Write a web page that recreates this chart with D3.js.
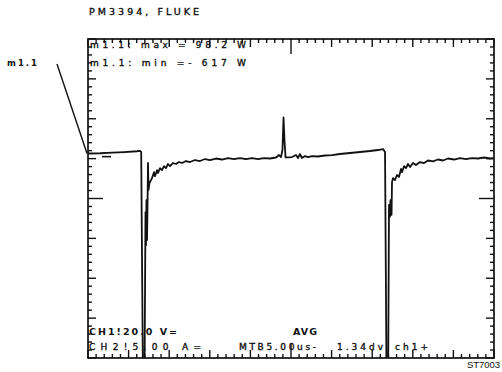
<!DOCTYPE html>
<html>
<head>
<meta charset="utf-8">
<script src="https://cdn.jsdelivr.net/npm/d3@7"></script>
<style>
  body { margin: 0; background: #fff; }
  svg { display: block; }
  text { font-family: "DejaVu Sans", sans-serif; fill: #111; }
</style>
</head>
<body>
<svg id="scope" width="502" height="372"></svg>
<script>
// m1.1 math trace: time (µs) and power (W)
const timeUs = [
  0, 1.5, 3.0, 4.5, 6.0, 6.4, 6.55, 6.77, 6.85, 6.95,
  7.08, 7.14, 7.2, 7.27, 7.33, 7.39, 7.45, 7.57, 7.76, 7.88,
  8.13, 8.25, 8.5, 8.62, 8.87, 9.11, 9.36, 9.6, 9.85, 10.1,
  10.47, 10.84, 11.2, 11.58, 12.07, 12.56, 13.18, 13.79, 14.41, 15.02,
  15.76, 16.5, 17.24, 17.98, 18.72, 19.46, 20.2, 20.94, 21.67, 22.41,
  23.15, 23.52, 23.77, 23.95, 24.08, 24.2, 24.33, 24.63, 25.12, 25.62,
  25.86, 26.1, 26.35, 26.72, 27.1, 27.6, 28.3, 29.2, 30.05, 31.03,
  32.27, 33.5, 34.73, 35.71, 36.33, 36.58, 36.76, 36.95, 37.07, 37.19,
  37.25, 37.38, 37.44, 37.56, 37.8, 38.05, 38.3, 38.55, 38.67, 38.92,
  39.16, 39.41, 39.66, 40.02, 40.39, 40.89, 41.38, 41.87, 42.49, 43.1,
  43.72, 44.33, 45.07, 45.81, 46.55, 47.29, 48.03, 48.77, 49.5, 50
];
const powerW = [
  7.8, 8.5, 10, 11.5, 13.5, 14.5, 12, -560, -617, -590,
  -139, -222, -109, -209, -121, -16, -84, -66, -59, -54,
  -39, -49, -34, -41, -29, -34, -24, -29, -18.5, -24,
  -16, -18.5, -13.5, -16, -11, -13.5, -8.5, -11, -6, -8.5,
  -4.7, -7.2, -3.5, -6, -3.5, -6, -3.5, -6, -3.5, -4.7,
  -2.2, 4, -1, 17, 98.2, 40, -2, -2, -1, 4,
  -3.5, 6.6, -3.5, 1.5, -1, 1.5, 0.3, 2.8, 4, 6.6,
  9.1, 11.6, 14.1, 16.6, 19.1, 11.6, -540, -605, -121, -151,
  -109, -146, -64, -54, -59, -46, -51, -31, -39, -24,
  -29, -18.5, -26, -16, -21, -13.5, -16, -9.7, -12, -7.2,
  -9.7, -4.7, -7.2, -3.5, -6, -3.5, -4.7, -2.2, -4.7, -3.5
];

// screen settings
const timeDomain = [0, 50];        // 10 div x 5.00 µs
const powerDomain = [-505, 295];   // 8 div x 100 W
const xDivisions = 10, yDivisions = 8, subDivisions = 5;

// readouts
const titleText = "PM3394, FLUKE";
const traceName = "m1.1";
const maxText = "m1.1: max = 98.2 W";
const minText = "m1.1: min =- 617 W";
const ch1Text = "CH1!20.0 V=";
const modeText = "AVG";
const ch2Text = "CH2!5.00 A=";
const timebaseText = "MTB5.00us-";
const triggerLevelText = "1.34dv";
const triggerSourceText = "ch1+";
const figureId = "ST7003";

const svg = d3.select("#scope");
const scrLeft = 88, scrRight = 494, scrTop = 39, scrBottom = 358;

const x = d3.scaleLinear(timeDomain, [scrLeft, scrRight]);
const y = d3.scaleLinear(powerDomain, [scrBottom, scrTop]);
const divX = d3.scaleLinear([0, xDivisions], [scrLeft, scrRight]);
const divY = d3.scaleLinear([0, yDivisions], [scrTop, scrBottom]);

// graticule edge ticks
const g = svg.append("g").attr("stroke", "#111").attr("stroke-width", 1.4);
const stepsX = d3.range(0, xDivisions * subDivisions + 1);
const stepsY = d3.range(0, yDivisions * subDivisions + 1);
function tickLen(i, n) {
  if (i % subDivisions !== 0) return 4;
  if (i === n / 2) return 15;
  return 8;
}
stepsX.forEach(i => {
  const px = divX(i / subDivisions);
  const L = tickLen(i, xDivisions * subDivisions);
  g.append("line").attr("x1", px).attr("x2", px).attr("y1", scrTop).attr("y2", scrTop + L);
  g.append("line").attr("x1", px).attr("x2", px).attr("y1", scrBottom).attr("y2", scrBottom - L);
});
stepsY.forEach(i => {
  const py = divY(i / subDivisions);
  const L = tickLen(i, yDivisions * subDivisions);
  g.append("line").attr("x1", scrLeft).attr("x2", scrLeft + L).attr("y1", py).attr("y2", py);
  g.append("line").attr("x1", scrRight).attr("x2", scrRight - L).attr("y1", py).attr("y2", py);
});

// frame
svg.append("rect")
  .attr("x", scrLeft).attr("y", scrTop)
  .attr("width", scrRight - scrLeft).attr("height", scrBottom - scrTop)
  .attr("fill", "none").attr("stroke", "#111").attr("stroke-width", 1.7);

// zero level marker of the trace
svg.append("line")
  .attr("x1", scrLeft + 14).attr("x2", scrLeft + 23)
  .attr("y1", y(0)).attr("y2", y(0))
  .attr("stroke", "#111").attr("stroke-width", 1.6);

// trace, clipped to the screen
svg.append("clipPath").attr("id", "screen")
  .append("rect").attr("x", scrLeft).attr("y", scrTop)
  .attr("width", scrRight - scrLeft).attr("height", scrBottom - scrTop);

const line = d3.line()
  .x((d, i) => x(timeUs[i]))
  .y(d => y(d));

svg.append("path")
  .datum(powerW)
  .attr("clip-path", "url(#screen)")
  .attr("d", line)
  .attr("fill", "none")
  .attr("stroke", "#111")
  .attr("stroke-width", 1.8)
  .attr("stroke-linejoin", "round");

// trace label with leader line
svg.append("line")
  .attr("x1", 57).attr("y1", 64)
  .attr("x2", x(timeUs[0]) - 1).attr("y2", y(powerW[0]))
  .attr("stroke", "#111").attr("stroke-width", 1.4);

function label(t, px, py, width, size, weight, family) {
  const el = svg.append("text")
    .attr("x", px).attr("y", py)
    .attr("font-size", size)
    .attr("font-weight", weight || "normal")
    .attr("textLength", width)
    .attr("lengthAdjust", "spacing")
    .attr("stroke", "#111")
    .attr("stroke-width", weight === "bold" ? 0 : 0.35)
    .text(t);
  if (family) el.style("font-family", family).attr("stroke-width", 0);
  return el;
}

label(titleText, 89, 15, 110, 9.5);
label(traceName, 7, 66, 30, 8.5, "bold");
label(maxText, 90, 48, 156, 9);
label(minText, 90, 66, 156, 9);
label(ch1Text, 89, 335, 88, 9.5, "bold");
label(modeText, 293, 335, 24, 9.5, "bold");
label(ch2Text, 89, 350, 112, 9);
label(timebaseText, 239, 350, 77, 9);
label(triggerLevelText, 337, 350, 46, 9);
label(triggerSourceText, 395, 350, 33, 9);
label(figureId, 467, 368, 33, 9.5, "normal", "'Liberation Sans', Arial, sans-serif");
</script>
</body>
</html>
